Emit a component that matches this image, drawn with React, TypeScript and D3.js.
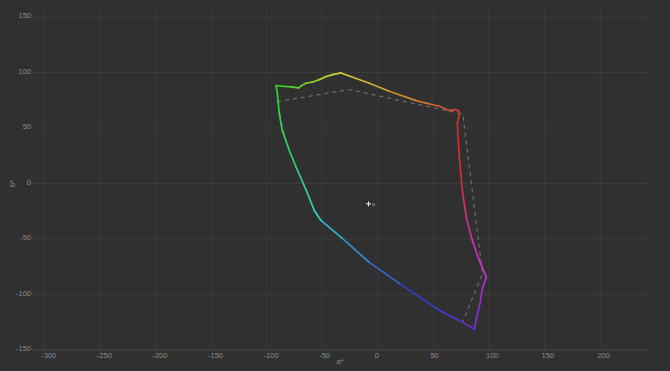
import React from "react";
import * as d3 from "d3";

// gamut boundary (closed loop), a* / b*
const locusA = [
  -91.5, -85.6, -78.1, -71.5, -68.5, -64.6, -58.6, -52.6, -46.6, -40.6, -33.1, -25.6, -7.6, 10.3,
  34.4, 46.3, 55.3, 64.3, 68.8, 72.4, 73.3, 71.5, 73.3, 76.0, 79.6, 85.0, 91.3, 97.6, 94.2, 91.9,
  88.3, 86.8, 76.3, 55.3, 19.3, -7.6, -31.9, -51.1, -57.1, -64.3, -73.3, -79.6, -85.9, -88.6, -90.4,
];
const locusB = [
  88.2, 87.6, 87.0, 86.1, 88.2, 90.3, 91.5, 93.6, 96.3, 98.1, 99.6, 96.9, 90.3, 83.1,
  74.7, 71.7, 69.6, 65.7, 66.6, 65.7, 62.7, 54.0, 23.4, -6.3, -30.6, -51.3, -69.3, -84.6, -93.6, -108.0,
  -123.3, -131.4, -125.1, -114.3, -90.0, -71.1, -49.5, -33.3, -24.3, -6.3, 14.4, 29.7, 47.7, 63.0, 81.9,
];

// reference gamut (dashed)
const refA = [-90.6, -25.6, 76.4, 94.2, 76.3, 55.3, 19.3, -7.6, -31.9, -51.1, -57.1, -64.3, -73.3, -79.6, -85.6, -88.6, -90.6];
const refB = [73.8, 84.6, 62.6, -81.3, -124.8, -114.3, -90.0, -71.1, -49.5, -33.3, -24.3, -6.3, 14.4, 29.7, 49.5, 66.0, 73.8];

// white point markers
const whiteA = [-8.3];
const whiteB = [-18.3];
const targetA = [-3.8];
const targetB = [-19.2];

const xTicks = [-300, -250, -200, -150, -100, -50, 0, 50, 100, 150, 200];
const yTicks = [150, 100, 50, 0, -50, -100, -150];

const W = 670;
const H = 371;
const plot = { left: 32, right: 648, top: 17, bottom: 350 };

const hueMap = d3
  .scaleLinear()
  .domain([0, 15, 40, 55, 75, 95, 110, 125, 136, 180, 215, 250, 287, 305, 320, 335, 350, 360])
  .range([-8, -3, 3, 20, 35, 50, 62, 90, 120, 160, 185, 205, 228, 268, 295, 325, 340, 352]);

function colorFor(a: number, b: number) {
  let h = (Math.atan2(b, a) * 180) / Math.PI;
  if (h < 0) h += 360;
  return d3.hsl(hueMap(h), 0.62, 0.5).formatHex();
}

export default function App() {
  const x = d3.scaleLinear().domain([-311, 243]).range([plot.left, plot.right]);
  const y = d3.scaleLinear().domain([-150, 150]).range([plot.bottom, plot.top]);

  const pts = locusA.map((a, i) => [a, locusB[i]]);
  const closed = [...pts, pts[0]];
  const segs = closed.slice(0, -1).map((p, i) => {
    const q = closed[i + 1];
    return { p, q, c: colorFor((p[0] + q[0]) / 2, (p[1] + q[1]) / 2) };
  });

  const refLine = d3
    .line<number>()
    .x((a) => x(a))
    .y((_, i) => y(refB[i]))(refA);

  const labelColor = "#8c8c8c";
  const gridColor = "#3b3b3b";

  return (
    <svg
      width={W}
      height={H}
      style={{ position: "fixed", left: 0, top: 0, fontFamily: "'Liberation Sans', Arial, sans-serif" }}
    >
      <rect width={W} height={H} fill="#303030" />
      {/* grid */}
      {xTicks.map((t) => (
        <line key={"gx" + t} x1={x(t)} x2={x(t)} y1={plot.top - 9} y2={plot.bottom} stroke={gridColor} />
      ))}
      {yTicks.map((t) => (
        <line key={"gy" + t} x1={plot.left} x2={plot.right} y1={y(t)} y2={y(t)} stroke={gridColor} />
      ))}
      <line x1={plot.left} x2={plot.left} y1={plot.top - 9} y2={plot.bottom} stroke={gridColor} />
      <line x1={plot.right} x2={plot.right} y1={plot.top - 9} y2={plot.bottom} stroke={gridColor} />
      <line x1={plot.left} x2={plot.right} y1={plot.bottom} y2={plot.bottom} stroke="#444" />

      {/* tick labels */}
      {xTicks.map((t) => (
        <text key={"tx" + t} x={x(t) - 3} y={plot.bottom + 7.5} fontSize={7.5} fill={labelColor}>
          {t}
        </text>
      ))}
      {yTicks.map((t) => (
        <text key={"ty" + t} x={31} y={y(t) + 1} fontSize={7.5} fill={labelColor} textAnchor="end">
          {t}
        </text>
      ))}
      <text x={(plot.left + plot.right) / 2} y={H - 7} fontSize={7.5} fill={labelColor} textAnchor="middle">
        a*
      </text>
      <text
        transform={`translate(15,${y(0)}) rotate(-90)`}
        fontSize={7.5}
        fill={labelColor}
        textAnchor="middle"
      >
        b*
      </text>

      {/* reference gamut */}
      <path d={refLine ?? ""} fill="none" stroke="#7a7a7a" strokeWidth={1} strokeDasharray="4,4" />

      {/* gamut boundary */}
      {segs.map((s, i) => (
        <line
          key={"s" + i}
          x1={x(s.p[0])}
          y1={y(s.p[1])}
          x2={x(s.q[0])}
          y2={y(s.q[1])}
          stroke={s.c}
          strokeWidth={1.7}
          strokeLinecap="round"
        />
      ))}

      {/* white points */}
      {targetA.map((a, i) => (
        <rect key={"t" + i} x={x(a) - 1.5} y={y(targetB[i]) - 1.5} width={3} height={3} fill="#666" />
      ))}
      {whiteA.map((a, i) => (
        <g key={"w" + i} stroke="#eee" strokeWidth={1}>
          <line x1={x(a) - 2.5} x2={x(a) + 2.5} y1={y(whiteB[i])} y2={y(whiteB[i])} />
          <line x1={x(a)} x2={x(a)} y1={y(whiteB[i]) - 2.5} y2={y(whiteB[i]) + 2.5} />
        </g>
      ))}
    </svg>
  );
}
